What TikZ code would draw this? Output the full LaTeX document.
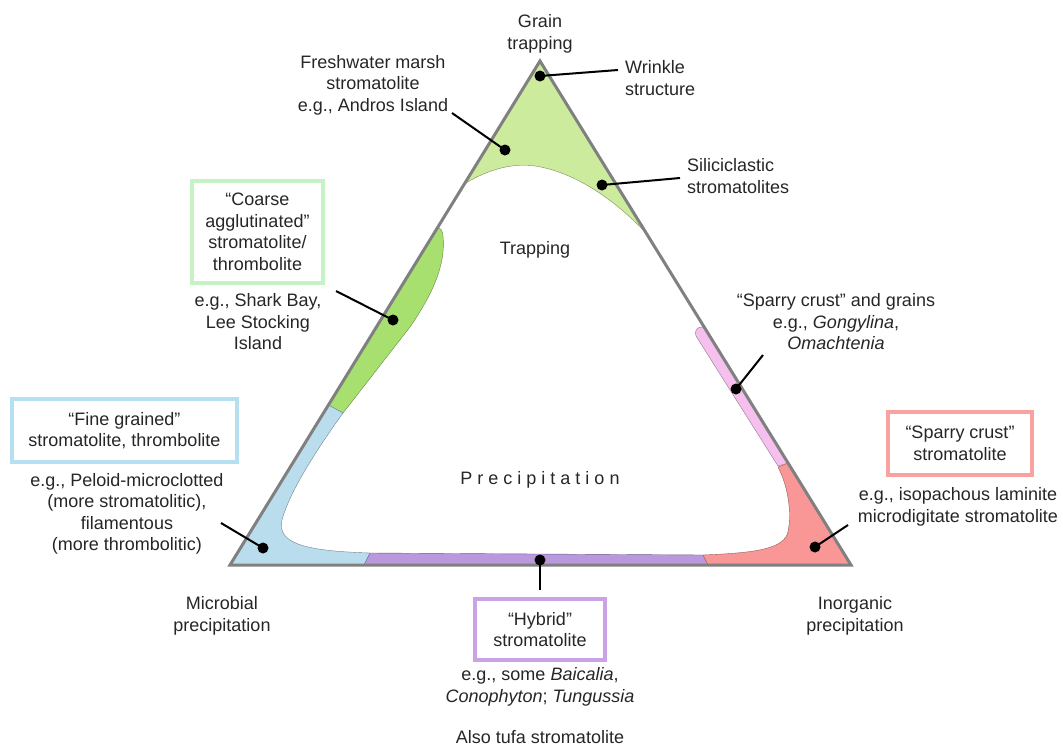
\documentclass[tikz,border=0pt]{standalone}
\usepackage{fontspec}
\setmainfont{Liberation Sans}
\definecolor{ltgreen}{HTML}{CDEB9D}
\definecolor{midgreen}{HTML}{A8E070}
\definecolor{ltblue}{HTML}{BADDEE}
\definecolor{purp}{HTML}{B998DE}
\definecolor{salmon}{HTML}{F99797}
\definecolor{pinkish}{HTML}{F6C0EE}
\definecolor{boxgreen}{HTML}{C6F3C6}
\definecolor{boxblue}{HTML}{B5E0F0}
\definecolor{boxred}{HTML}{F8A2A2}
\definecolor{boxpurple}{HTML}{C9A3E6}
\definecolor{edgegray}{HTML}{808080}
\begin{document}
\begin{tikzpicture}[x=1pt,y=-1pt,
  txt/.style={inner sep=0pt, align=center, text=black!85, font=\fontsize{18}{21.5}\selectfont},
  lbox/.style={draw=#1, line width=3.5pt, inner sep=0pt},
  dot/.style={circle, fill=black, inner sep=0pt, minimum size=11pt},
  lead/.style={line width=2pt, black},
  region/.style={fill=#1, draw=#1!60!black, line width=0.4pt}]
\useasboundingbox (0,0) rectangle (1063,747);
\coordinate (A) at (540,61);
\coordinate (B) at (230,565);
\coordinate (C) at (851,565);

% regions
\path[region=ltgreen] (540,61) -- (464.3,184) .. controls (490,168) and (515,163) .. (535,166)
   .. controls (575,172) and (615,200) .. (646.1,233) -- cycle;
\path[region=midgreen] (328.4,405) -- (343,413) .. controls (365,385) and (392,350) .. (410,327)
   .. controls (432,295) and (446,265) .. (443,236) .. controls (442,226) and (437,226) .. (434.8,232) -- cycle;
\path[region=ltblue] (328.4,405) -- (343,413) .. controls (320,445) and (290,490) .. (282,520)
   .. controls (276,545) and (310,551) .. (370,553) -- (364,565) -- (230,565) -- cycle;
\path[region=purp] (364,565) -- (370,553) -- (703,555) -- (708,565) -- cycle;
\path[region=salmon] (788,463) -- (778,467) .. controls (790,490) and (792,520) .. (787,535)
   .. controls (780,550) and (750,553) .. (703,555) -- (708,565) -- (851,565) -- cycle;
\path[region=pinkish] (704.7,328) .. controls (699,325) and (694,329) .. (696,336) -- (778,466) -- (788,463) -- cycle;

% triangle
\draw[edgegray, line width=3pt] (A) -- (B) -- (C) -- cycle;

% dots
\node[dot] (dw) at (540,76) {};
\node[dot] (df) at (505,150) {};
\node[dot] (ds) at (602,185) {};
\node[dot] (dc) at (393,320) {};
\node[dot] (dfi) at (263,548) {};
\node[dot] (dp) at (736,389) {};
\node[dot] (dr) at (815,547) {};
\node[dot] (dh) at (540,560) {};

\coordinate (ew) at (618,70);
\coordinate (ef) at (452,113);
\coordinate (es) at (680,178);
\coordinate (ec) at (336,291);
\coordinate (efi) at (221,523);
\coordinate (ep) at (763,355);
\coordinate (er) at (848,525);
\coordinate (eh) at (540,590);

\draw[lead] (ew) -- (dw.center);
\draw[lead] (ef) -- (df.center);
\draw[lead] (es) -- (ds.center);
\draw[lead] (ec) -- (dc.center);
\draw[lead] (efi) -- (dfi.center);
\draw[lead] (ep) -- (dp.center);
\draw[lead] (er) -- (dr.center);
\draw[lead] (eh) -- (dh.center);

% boxes
\node[lbox=boxgreen, minimum width=131pt, minimum height=102pt] (bcoarse) at (257.5,232) {};
\node[lbox=boxblue, minimum width=225pt, minimum height=63pt] (bfine) at (124.5,430.5) {};
\node[lbox=boxred, minimum width=144pt, minimum height=63pt] (bsparry) at (960,443.5) {};
\node[lbox=boxpurple, minimum width=130pt, minimum height=61pt] (bhybrid) at (540,629.5) {};

% texts
\node[txt] (tgrain) at (540,34) {Grain\\trapping};
\node[txt] (tfresh) at (373,85) {Freshwater marsh\\stromatolite\\e.g., Andros Island};
\node[txt, align=left, anchor=west] (twrinkle) at (625,78) {Wrinkle\\structure};
\node[txt, align=left, anchor=west] (tsilic) at (687,176) {Siliciclastic\\stromatolites};
\node[txt] (ttrap) at (535,250) {Trapping};
\node[txt] (tprec) at (540,480) {P\kern5pt r\kern5pt e\kern5pt c\kern5pt i\kern5pt p\kern5pt i\kern5pt t\kern5pt a\kern5pt t\kern5pt i\kern5pt o\kern5pt n};
\node[txt] (tcoarse) at (257.5,232) {“Coarse\\agglutinated”\\stromatolite/\\thrombolite};
\node[txt] (tshark) at (258,322) {e.g., Shark Bay,\\Lee Stocking\\Island};
\node[txt] (tfine) at (124.5,430.5) {“Fine grained”\\stromatolite, thrombolite};
\node[txt] (tpeloid) at (127,514) {e.g., Peloid-microclotted\\(more stromatolitic),\\filamentous\\(more thrombolitic)};
\node[txt] (tmicro) at (222,616) {Microbial\\precipitation};
\node[txt] (tinorg) at (855,616) {Inorganic\\precipitation};
\node[txt] (tsparry) at (960,443.5) {“Sparry crust”\\stromatolite};
\node[txt] (tiso) at (958,507) {e.g., isopachous laminite\\microdigitate stromatolite};
\node[txt] (tgrains) at (836,322) {“Sparry crust” and grains\\e.g., \textit{Gongylina},\\\textit{Omachtenia}};
\node[txt] (thybrid) at (540,629.5) {“Hybrid”\\stromatolite};
\node[txt] (tbaic) at (540,687) {e.g., some \textit{Baicalia},\\\textit{Conophyton}; \textit{Tungussia}};
\node[txt] (ttufa) at (540,737) {Also tufa stromatolite};
\end{tikzpicture}
\end{document}
